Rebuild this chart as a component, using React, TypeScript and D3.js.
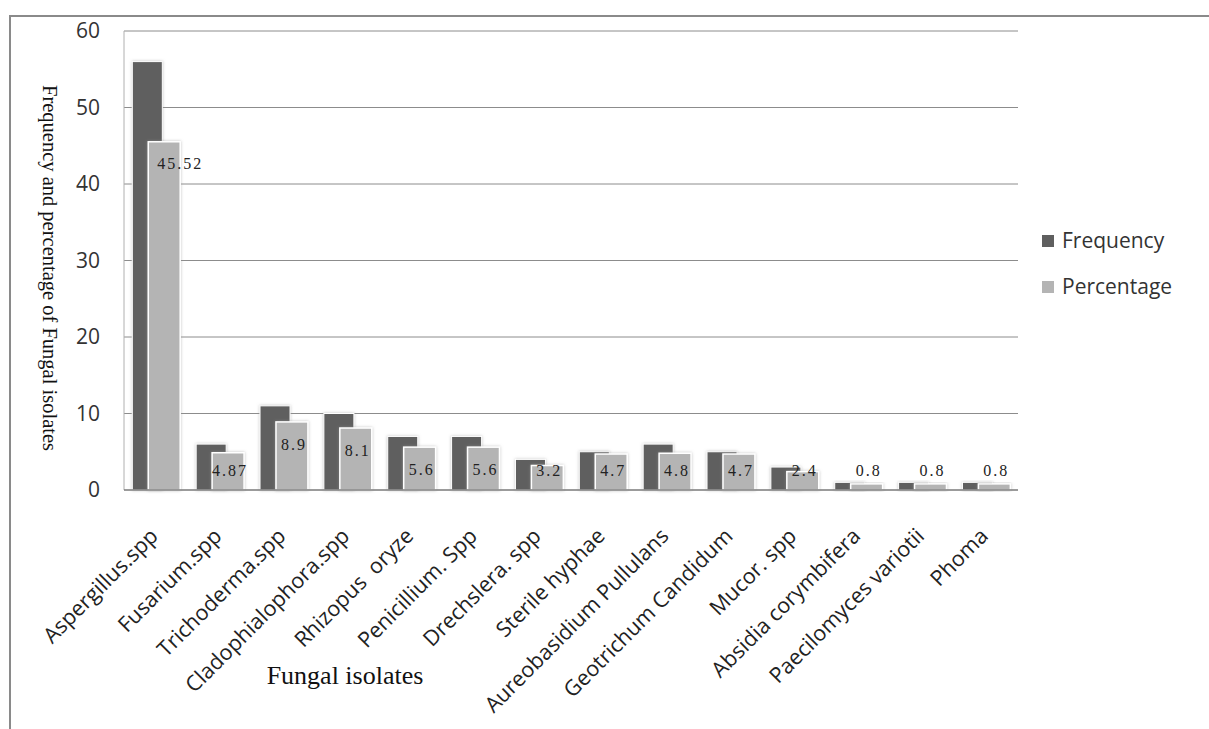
import React, { useEffect, useRef } from 'react';
import * as d3 from 'd3';

const isolates = [
  'Aspergillus.spp', 'Fusarium.spp', 'Trichoderma.spp', 'Cladophialophora.spp',
  'Rhizopus  oryze', 'Penicillium. Spp', 'Drechslera. spp', 'Sterile hyphae',
  'Aureobasidium Pullulans', 'Geotrichum Candidum', 'Mucor. spp',
  'Absidia corymbifera', 'Paecilomyces variotii', 'Phoma',
];
const frequency = [56, 6, 11, 10, 7, 7, 4, 5, 6, 5, 3, 1, 1, 1];
const percentage = [45.52, 4.87, 8.9, 8.1, 5.6, 5.6, 3.2, 4.7, 4.8, 4.7, 2.4, 0.8, 0.8, 0.8];
const yTicks = [0, 10, 20, 30, 40, 50, 60];
const seriesNames = ['Frequency', 'Percentage'];

const W = 1209;
const H = 729;

export default function App() {
  const svgRef = useRef<SVGSVGElement | null>(null);

  useEffect(() => {
    if (!svgRef.current) return;
    const svg = d3.select(svgRef.current);
    svg.selectAll('*').remove();

    const left = 124, right = 1018, top = 31, bottom = 490;
    const freqColor = '#5f5f5f';
    const pctColor = '#b4b4b4';

    const defs = svg.append('defs');
    const f = defs.append('filter').attr('id', 'glow')
      .attr('x', '-20%').attr('y', '-20%').attr('width', '140%').attr('height', '140%');
    f.append('feDropShadow').attr('dx', 0).attr('dy', 0).attr('stdDeviation', 1.5)
      .attr('flood-color', '#999').attr('flood-opacity', 0.6);

    // outer frame
    svg.append('path')
      .attr('d', `M10,${H} L10,16 L${W},16`)
      .attr('fill', 'none').attr('stroke', '#8a8a8a').attr('stroke-width', 2);

    const x = d3.scaleBand<string>().domain(isolates).range([left, right]);
    const y = d3.scaleLinear().domain([0, 60]).range([bottom, top]);

    // grid
    svg.append('g')
      .selectAll('line')
      .data(yTicks.filter((t) => t > 0))
      .join('line')
      .attr('x1', left).attr('x2', right)
      .attr('y1', (d) => y(d)).attr('y2', (d) => y(d))
      .attr('stroke', '#8c8c8c').attr('stroke-width', 1);

    // plot left edge
    svg.append('line')
      .attr('x1', left).attr('x2', left).attr('y1', top).attr('y2', bottom)
      .attr('stroke', '#b0b0b0').attr('stroke-width', 1);

    // y tick labels
    svg.append('g')
      .selectAll('text')
      .data(yTicks)
      .join('text')
      .attr('x', 100).attr('y', (d) => y(d))
      .attr('dy', '0.35em')
      .attr('text-anchor', 'end')
      .attr('font-family', '"Open Sans", sans-serif')
      .attr('font-size', 21)
      .attr('fill', '#333')
      .text((d) => d);

    const bw = x.bandwidth();
    const freqW = bw * 0.47;
    const pctW = bw * 0.5;

    const g = svg.append('g');
    g.selectAll('rect.freq')
      .data(frequency)
      .join('rect')
      .attr('class', 'freq')
      .attr('x', (_, i) => (x(isolates[i]) as number) + bw * 0.13)
      .attr('y', (d) => y(d))
      .attr('width', freqW)
      .attr('height', (d) => y(0) - y(d))
      .attr('fill', freqColor)
      .attr('stroke', '#fff').attr('stroke-width', 1)
      .attr('filter', 'url(#glow)');

    g.selectAll('rect.pct')
      .data(percentage)
      .join('rect')
      .attr('class', 'pct')
      .attr('x', (_, i) => (x(isolates[i]) as number) + bw * 0.38)
      .attr('y', (d) => y(d))
      .attr('width', pctW)
      .attr('height', (d) => y(0) - y(d))
      .attr('fill', pctColor)
      .attr('stroke', '#fff').attr('stroke-width', 1.5)
      .attr('filter', 'url(#glow)');

    // axis line
    svg.append('line')
      .attr('x1', left).attr('x2', right).attr('y1', bottom).attr('y2', bottom)
      .attr('stroke', '#7a7a7a').attr('stroke-width', 1.5);

    // data labels
    svg.append('g')
      .selectAll('text')
      .data(percentage)
      .join('text')
      .attr('x', (d, i) => (x(isolates[i]) as number) + bw * 0.38 + pctW / 2 + 2 + (d > 40 ? 14 : 0))
      .attr('y', (d) => Math.min(y(d) + 22, y(0) - 20))
      .attr('dy', '0.35em')
      .attr('text-anchor', 'middle')
      .attr('font-family', '"Liberation Serif", serif')
      .attr('font-size', 16)
      .attr('letter-spacing', 2)
      .attr('fill', '#222')
      .text((d) => d);

    // x labels
    svg.append('g')
      .selectAll('text')
      .data(isolates)
      .join('text')
      .attr('transform', (d) => `translate(${(x(d) as number) + bw / 2 - 2},${bottom + 42}) rotate(-45)`)
      .attr('text-anchor', 'end')
      .attr('dy', '0.35em')
      .attr('font-family', '"Open Sans", sans-serif')
      .attr('font-size', 21.5)
      .attr('fill', '#222')
      .attr('xml:space', 'preserve')
      .style('white-space', 'pre')
      .text((d) => d);

    // axis titles
    svg.append('text')
      .attr('x', 345).attr('y', 675)
      .attr('dy', '0.35em')
      .attr('text-anchor', 'middle')
      .attr('font-family', '"Liberation Serif", serif')
      .attr('font-size', 26)
      .attr('fill', '#111')
      .text('Fungal isolates');

    svg.append('text')
      .attr('transform', `translate(50,268) rotate(90)`)
      .attr('text-anchor', 'middle')
      .attr('dy', '0.35em')
      .attr('font-family', '"Liberation Serif", serif')
      .attr('font-size', 20.5)
      .attr('fill', '#111')
      .text('Frequency and percentage of Fungal isolates');

    // legend
    const legend = svg.append('g')
      .selectAll('g')
      .data(seriesNames)
      .join('g')
      .attr('transform', (_, i) => `translate(1042,${241 + i * 46})`);
    legend.append('rect')
      .attr('x', 0).attr('y', -6).attr('width', 12).attr('height', 12)
      .attr('fill', (_, i) => (i === 0 ? freqColor : pctColor));
    legend.append('text')
      .attr('x', 20).attr('y', 0).attr('dy', '0.35em')
      .attr('font-family', '"Open Sans", sans-serif')
      .attr('font-size', 21)
      .attr('fill', '#333')
      .text((d) => d);
  }, []);

  return (
    <svg
      ref={svgRef}
      width={W}
      height={H}
      style={{ position: 'absolute', left: 0, top: 0, background: '#fff' }}
    />
  );
}
